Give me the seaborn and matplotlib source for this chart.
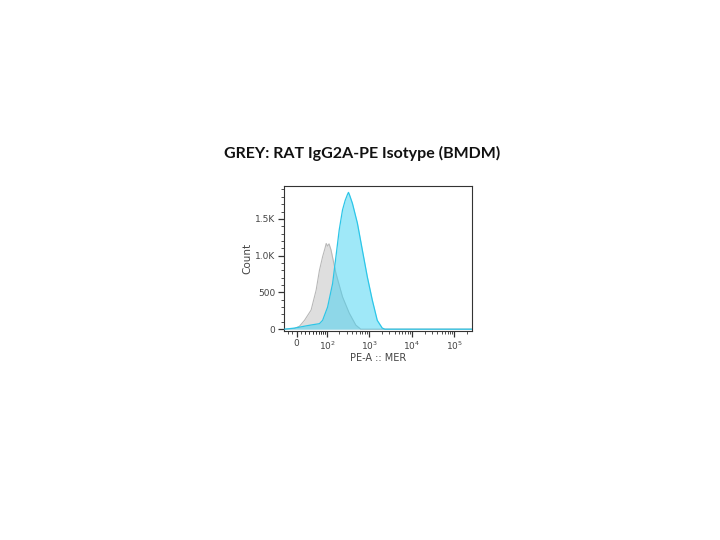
import matplotlib
matplotlib.use("Agg")
import matplotlib.pyplot as plt
import seaborn as sns
import numpy as np
import pandas as pd

# ---- data ----
grey_x = [-27.5, -4.3, 6.4, 17.7, 34.8, 50.6, 63, 76.7, 88.6, 95, 103, 112, 125, 165, 237, 341, 489, 639, 262144]
grey_y = [0, 10, 40, 120, 260, 530, 800, 985, 1100, 1165, 1130, 1160, 1080, 760, 440, 220, 55, 0, 0]

blue_x = [-27.5, -4.3, 21.7, 38.6, 63, 76.7, 103, 137, 165, 198, 237, 274, 310, 328, 345, 360, 407, 533, 696, 911, 1191, 1556, 2035, 2352, 262144]
blue_y = [0, 15, 45, 60, 75, 120, 300, 620, 985, 1350, 1620, 1750, 1830, 1860, 1830, 1800, 1710, 1440, 1075, 710, 395, 120, 15, 0, 0]

x_ticks = [0, 100, 1000, 10000, 100000]
x_labels = ["0", "10$^2$", "10$^3$", "10$^4$", "10$^5$"]
y_ticks = [0, 500, 1000, 1500]
y_labels = ["0", "500", "1.0K", "1.5K"]

title = "GREY: RAT IgG2A-PE Isotype (BMDM)"

sns.set_style("white")
plt.rcParams["font.family"] = ["DejaVu Sans"]

df = pd.concat([
    pd.DataFrame({"x": grey_x, "y": grey_y, "s": "grey"}),
    pd.DataFrame({"x": blue_x, "y": blue_y, "s": "blue"}),
])

fig = plt.figure(figsize=(7.2, 5.4), dpi=100)
ax = fig.add_axes([0.394, 0.387, 0.262, 0.269])
ax.set_xscale("asinh", linear_width=40)

ax.fill_between(grey_x, grey_y, color="#dedede", alpha=1.0, zorder=1, linewidth=0)
sns.lineplot(data=df[df.s == "grey"], x="x", y="y", ax=ax, color="#b8b8b8",
             linewidth=0.8, sort=False, estimator=None, zorder=2)
ax.fill_between(blue_x, blue_y, color="#40d2f2", alpha=0.5, zorder=3, linewidth=0)
sns.lineplot(data=df[df.s == "blue"], x="x", y="y", ax=ax, color="#2cc6e8",
             linewidth=0.9, sort=False, estimator=None, zorder=4)

ax.set_xlim(-30, 262144)
ax.set_ylim(-25, 1950)

ax.set_xticks(x_ticks)
ax.set_xticklabels(x_labels)
minors = [-20, -10, 10, 20, 30, 40, 50, 60, 70, 80, 90]
for k in [2, 3, 4]:
    minors += [m * 10 ** (k - 1) for m in range(2, 10)]
minors += [m * 10 ** 4 for m in range(2, 10)] + [200000]
ax.set_xticks(minors, minor=True)
ax.set_yticks(y_ticks)
ax.set_yticklabels(y_labels)
ax.set_yticks(np.arange(0, 1950, 100), minor=True)

ax.tick_params(axis="both", which="major", direction="out", length=4, width=0.9,
               labelsize=6.5, colors="#333333", labelcolor="#444444", pad=2,
               bottom=True, left=True)
ax.tick_params(axis="both", which="minor", direction="out", length=2, width=0.6,
               colors="#333333", bottom=True, left=True)
ax.set_xlabel("PE-A :: MER", fontsize=7, color="#444444", labelpad=1)
ax.set_ylabel("Count", fontsize=7.5, color="#444444", labelpad=2)
for sp in ax.spines.values():
    sp.set_color("#333333")
    sp.set_linewidth(0.8)
ax.grid(False)

fig.text(0.503, 0.716, title, ha="center", va="center", fontsize=11.5,
         fontweight="bold", family=["Lato", "DejaVu Sans"], color="#111111")

fig.savefig("out.png", dpi=100)
